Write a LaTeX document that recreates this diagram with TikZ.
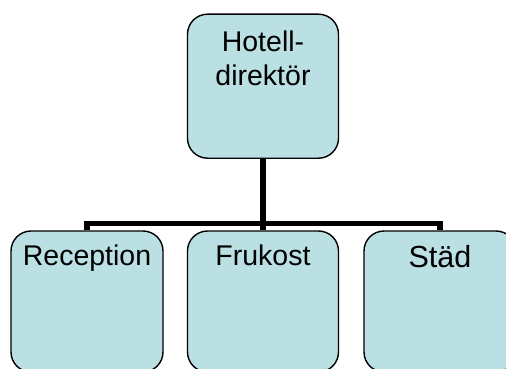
\documentclass[tikz,border=0pt]{standalone}
\usepackage{fontspec}
\setmainfont{Liberation Sans}
\usetikzlibrary{backgrounds}
\definecolor{boxfill}{RGB}{187,224,227}
\begin{document}
\begin{tikzpicture}[x=1pt,y=1pt,
  unit/.style={draw=black, line width=1.4pt, fill=boxfill, rounded corners=20pt,
               inner sep=0pt, minimum width=151pt},
  caption/.style={inner sep=0pt, font=\fontsize{28.5}{34}\selectfont, align=center},
  link/.style={line width=5.5pt, line join=miter}]
\useasboundingbox (0,0) rectangle (506,-369);
\clip (0,0) rectangle (506,-369);

% org chart boxes
\node[unit, minimum height=144pt] (dir) at (263,-86.2) {};
\node[unit, minimum width=152pt, minimum height=141pt] (rec) at (87,-301.5) {};
\node[unit, minimum height=141pt] (fru) at (263,-301.5) {};
\node[unit, minimum width=152pt, minimum height=141pt] (std) at (440,-301.5) {};

% captions
\node[caption, anchor=north] (dirtext) at ([yshift=-17.6pt]dir.north) {Hotell-\\direktör};
\node[caption, anchor=base] (rectext) at ([yshift=-35.5pt]rec.north) {Reception};
\node[caption, anchor=base] (frutext) at ([yshift=-35.5pt]fru.north) {Frukost};
\node[caption, anchor=base, font=\fontsize{30.5}{36}\selectfont] (stdtext) at ([yshift=-37pt]std.north) {Städ};

% connectors
\coordinate (barL) at (87,-223.7);
\coordinate (barR) at (440,-223.7);
\begin{pgfonlayer}{background}
  \draw[link] (rec.north) -- (barL) -- (barR) -- (std.north);
  \draw[link] (dir.south) -- (fru.north);
\end{pgfonlayer}
\end{tikzpicture}
\end{document}
